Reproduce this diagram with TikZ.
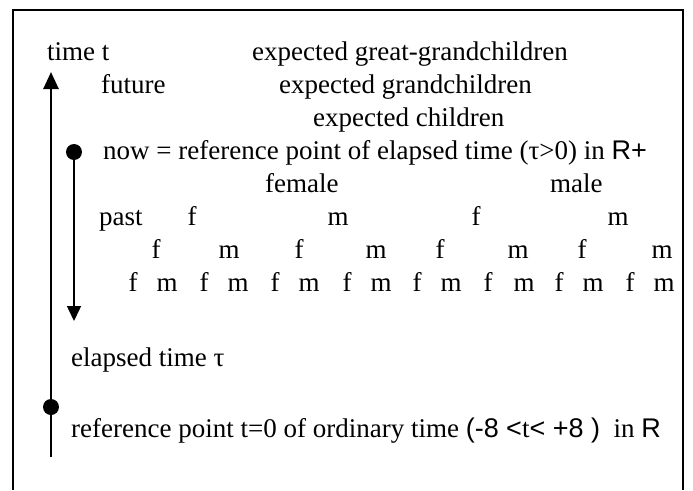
\documentclass[tikz,border=0pt]{standalone}
\usepackage{fontspec}
\setmainfont{Liberation Serif}
\newfontfamily\arialfont{Liberation Sans}
\usetikzlibrary{arrows.meta,positioning}
\tikzset{
  famtext/.style={
    anchor=base west,
    inner sep=0pt,
    font=\fontsize{27}{32}\selectfont
  },
  sexmark/.style={
    famtext,
    anchor=base
  },
  timedot/.style={circle,fill=black,inner sep=0pt,minimum size=16pt},
  timeaxis/.style={-{Triangle[length=17pt,width=15pt]},line width=2.6pt},
  pastaxis/.style={-{Triangle[length=15pt,width=14pt]},line width=1.5pt}
}

\begin{document}
\begin{tikzpicture}[x=1pt,y=-1pt]
    \useasboundingbox (0,0) rectangle (693,490);
    \draw[line width=2pt] (13,490) -- (13,10) -- (683,10) -- (683,490);
    % labels of the generations
    \node[famtext] (timelbl) at (47,60) {time t};
    \node[famtext] (greatgc) at (252,60) {expected great-grandchildren};
    \node[famtext] (futurelbl) at (101,93) {future};
    \node[famtext] (grandc) at (279,93) {expected grandchildren};
    \node[famtext] (children) at (313,126) {expected children};
    \node[famtext] (nowlbl) at (103,159) {now = reference point of elapsed time (τ>0) in {\arialfont R+}};
    \node[famtext] (female) at (265,192) {female};
    \node[famtext] (male) at (550,192) {male};
    \node[famtext] (pastlbl) at (99,225) {past};
    \foreach \x/\s [count=\i] in {192/f,338/m,476/f,618/m}
      \node[sexmark] (gen1-\i) at (\x,225) {\s};
    \foreach \x/\s [count=\i] in {156/f,229/m,299/f,376/m,440/f,518/m,582/f,662/m}
      \node[sexmark] (gen2-\i) at (\x,258) {\s};
    \foreach \x/\s [count=\i] in {133/f,167/m,204/f,238/m,275/f,309/m,347/f,381/m,417/f,451/m,488/f,524/m,559/f,593/m,630/f,664/m}
      \node[sexmark] (gen3-\i) at (\x,291) {\s};
    \node[famtext] (elapsedlbl) at (71,366) {elapsed time τ};
    \node[famtext] (reflbl) at (71,437) {reference point t=0 of ordinary time {\arialfont(-8 <}t{\arialfont< +8 )}~ in {\arialfont R}};
    % the two time axes
    \node[timedot] (zero) at (51,407) {};
    \coordinate (tbottom) at (51,457);
    \coordinate (ttop) at (51,72);
    \draw[line width=1.8pt] (tbottom) -- (zero);
    \draw[timeaxis] (zero) -- (ttop);
    \node[timedot] (nowdot) at (74,152) {};
    \coordinate (pastend) at (74,321);
    \draw[pastaxis] (nowdot) -- (pastend);
  \end{tikzpicture}
\end{document}
